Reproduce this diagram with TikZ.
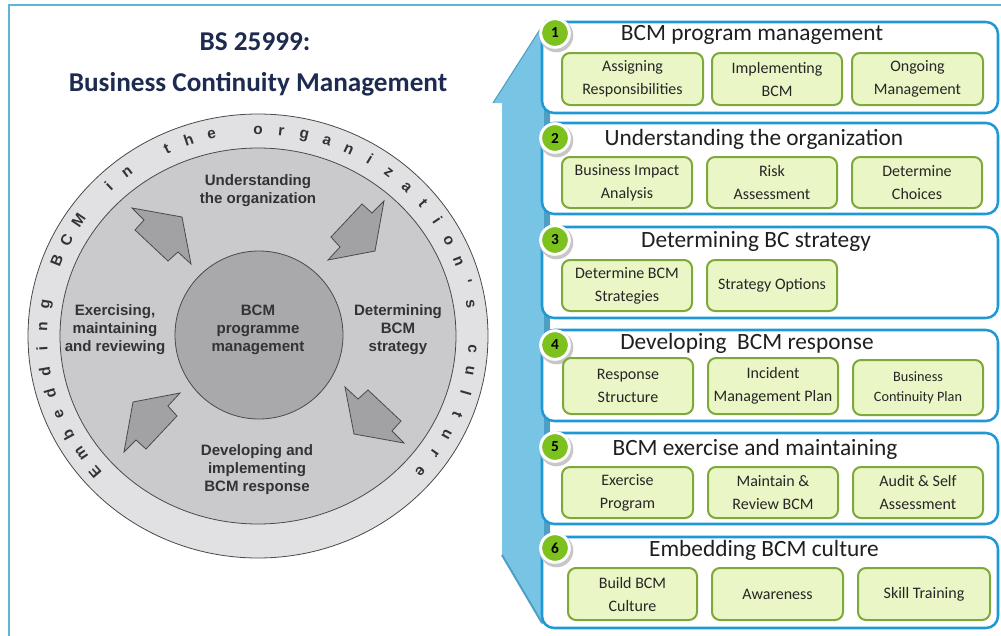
\documentclass[tikz,border=0pt]{standalone}
\usepackage{fontspec}
\setmainfont{Carlito}
\newfontfamily\arialfont{Liberation Sans}
\usetikzlibrary{calc}

\definecolor{framec}{HTML}{5DB6D6}
\definecolor{navy}{HTML}{1E2B50}
\definecolor{bandgray}{HTML}{E1E1E3}
\definecolor{midgray}{HTML}{CACACC}
\definecolor{coregray}{HTML}{A9A9AB}
\definecolor{arrowgray}{HTML}{A2A2A4}
\definecolor{linegray}{HTML}{4A4A4A}
\definecolor{textgray}{HTML}{333333}
\definecolor{skyblue}{HTML}{78C4E4}
\definecolor{skydark}{HTML}{4F9FC4}
\definecolor{panelblue}{HTML}{1F98D5}
\definecolor{boxfill}{HTML}{EAF6C6}
\definecolor{boxline}{HTML}{7EA83A}
\definecolor{badgegreen}{HTML}{7DC11F}

\begin{document}
\begin{tikzpicture}[x=0.75pt,y=-0.75pt,
  titletext/.style={font=\bfseries\fontsize{20.4}{24}\selectfont, text=navy, inner sep=0pt, anchor=mid},
  phase/.style={font=\arialfont\bfseries\fontsize{11.3}{13.5}\selectfont, text=textgray, align=center, inner sep=0pt},
  ringchar/.style={font=\arialfont\bfseries\fontsize{11.5}{12}\selectfont, text=textgray, inner sep=0pt, anchor=mid},
  ringline/.style={draw=linegray, line width=0.6pt},
  garrow/.style={fill=arrowgray, draw=linegray, line width=0.6pt, line join=miter},
  panel/.style={draw=panelblue, line width=1.9pt, fill=white, rounded corners=9pt,
    minimum width=342pt, minimum height=68.25pt, inner sep=0pt},
  paneltitle/.style={font=\fontsize{17.5}{20}\selectfont, text=black!88, inner sep=0pt, anchor=mid},
  subbox/.style={draw=boxline, line width=1.5pt, fill=boxfill, rounded corners=6pt,
    align=center, inner sep=0pt, text=black!85, font=\fontsize{12}{17.25}\selectfont},
  wh/.style 2 args={minimum width=#1*0.75pt, minimum height=#2*0.75pt},
  badge/.style={circle, fill=badgegreen, draw=white, line width=2.2pt, minimum size=21.5pt,
    inner sep=0pt, font=\bfseries\fontsize{11.5}{12}\selectfont, text=black},
]
\useasboundingbox (0,0) rectangle (1001,636);

% outer frame
\draw[framec, line width=1.5pt] (9,636) -- (9,5) -- (1001,5);

% title
\node[titletext] (title1) at (255,47) {BS 25999:};
\node[titletext] (title2) at (258,88) {Business Continuity Management};

% lifecycle disc
\fill[bandgray] (258,336) ellipse [x radius=172.5pt, y radius=166.5pt];
\draw[ringline] (258,336) ellipse [x radius=172.5pt, y radius=166.5pt];
\fill[midgray] (258,336) ellipse [x radius=148.5pt, y radius=141pt];
\draw[ringline] (258,336) ellipse [x radius=148.5pt, y radius=141pt];
\node[circle, fill=coregray, draw=linegray, line width=0.6pt, minimum size=126pt, inner sep=0pt] (core) at (259,335) {};

% lettering around the ring
\foreach \ch [count=\k from 0] in {E,m,b,e,d,d,i,n,g,{},B,C,M,{},i,n,{},t,h,e,{},o,r,g,a,n,i,z,a,t,i,o,n,',s,{},c,u,l,t,u,r,e}{
  \pgfmathsetmacro\ang{90+(21-\k)*6.24}
  \node[ringchar, rotate=\ang-90] (rc\k) at ({258+214*cos(\ang)},{336-205*sin(\ang)}) {\ch};
}

% block arrows pointing to the core (tip first, notched tail)
\draw[garrow] (191,264) -- +(-9,-47) -- +(-59,-56) -- +(-47,-44) -- +(-56,-34) -- +(-23,-3) -- +(-13,-12) -- cycle;
\draw[garrow] (328,260) -- +(47,-9) -- +(56,-59) -- +(44,-47) -- +(34,-56) -- +(3,-23) -- +(12,-13) -- cycle;
\draw[garrow] (345,387) -- +(9,47) -- +(59,56) -- +(47,44) -- +(56,34) -- +(23,3) -- +(13,12) -- cycle;
\draw[garrow] (180,393) -- +(-47,9) -- +(-56,59) -- +(-44,47) -- +(-34,56) -- +(-3,23) -- +(-12,13) -- cycle;

% phase labels
\node[phase] (ph1) at (258,190.5) {Understanding\\the organization};
\node[phase] (ph2) at (398,330) {Determining\\BCM\\strategy};
\node[phase] (ph3) at (257,469.5) {Developing and\\implementing\\BCM response};
\node[phase] (ph4) at (115,330) {Exercising,\\maintaining\\and reviewing};
\node[phase] (ph0) at (258,330) {BCM\\programme\\management};

% upward blue arrow behind the panels
\fill[skyblue] (502,555) -- (502,103) -- (493,103) -- (546,20) -- (550,20) -- (550,624) -- (542,624) -- cycle;
\fill[skydark] (544,40) rectangle (550,624);
\draw[skydark, line width=1.5pt] (502,555) -- (542,623);
\draw[skydark, line width=0.8pt] (493,103) -- (546,20);

% stage panels
\node[panel] (p1) at (770,67.5) {};
\node[panel] (p2) at (770,168.5) {};
\node[panel] (p3) at (770,272.5) {};
\node[panel] (p4) at (770,375.5) {};
\node[panel] (p5) at (770,478.5) {};
\node[panel] (p6) at (770,582.5) {};

% stage titles
\node[paneltitle] (s1) at (752,37) {BCM program management};
\node[paneltitle] (s2) at (754,142) {Understanding the organization};
\node[paneltitle] (s3) at (756,244) {Determining BC strategy};
\node[paneltitle] (s4) at (747,346) {Developing\ \ BCM response};
\node[paneltitle] (s5) at (755,452) {BCM exercise and maintaining};
\node[paneltitle] (s6) at (764,553) {Embedding BCM culture};

% stage number badges
\foreach \n/\by in {1/33,2/138,3/240,4/345,5/447,6/548}{
  \fill[black!22] (556.5,\by+2.5) circle [radius=12.6pt];
  \node[badge] (n\n) at (555,\by) {\n};
}

% activity boxes
\node[subbox, wh={141}{52}] (b11) at (632.5,79) {Assigning\\Responsibilities};
\node[subbox, wh={130}{52}] (b12) at (777,79) {Implementing\\BCM};
\node[subbox, wh={131}{52}] (b13) at (917.5,79) {Ongoing\\Management};

\node[subbox, wh={130}{51}] (b21) at (627,182.5) {Business Impact\\Analysis};
\node[subbox, wh={130}{51}] (b22) at (772,182.5) {Risk\\Assessment};
\node[subbox, wh={130}{51}] (b23) at (917,182.5) {Determine\\Choices};

\node[subbox, wh={130}{51}] (b31) at (627,285.5) {Determine BCM\\Strategies};
\node[subbox, wh={130}{51}] (b32) at (772,285.5) {Strategy Options};

\node[subbox, wh={130}{56}] (b41) at (628,386) {Response\\Structure};
\node[subbox, wh={130}{56}] (b42) at (773,386) {Incident\\Management Plan};
\node[subbox, wh={130}{55}, font=\fontsize{10.7}{15}\selectfont] (b43) at (918,387.5) {Business\\Continuity Plan};

\node[subbox, wh={131}{51}] (b51) at (627.5,492.5) {Exercise\\Program};
\node[subbox, wh={130}{51}] (b52) at (773,492.5) {Maintain \&\\Review BCM};
\node[subbox, wh={130}{51}] (b53) at (918,492.5) {Audit \& Self\\Assessment};

\node[subbox, wh={129}{52}] (b61) at (632.5,594) {Build BCM\\Culture};
\node[subbox, wh={131}{52}] (b62) at (777.5,594) {Awareness};
\node[subbox, wh={132}{52}] (b63) at (924,594) {Skill Training};
\end{tikzpicture}
\end{document}
